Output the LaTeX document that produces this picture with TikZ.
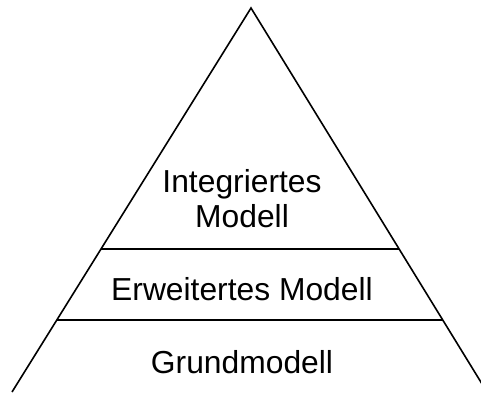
\documentclass[tikz,border=0pt]{standalone}
\usepackage{fontspec}
\setmainfont{Liberation Sans}
\usetikzlibrary{calc}
\tikzstyle{level} = [line width=1.6pt]
\tikzstyle{label} = [inner sep=0pt, align=center, font=\fontsize{31.8}{35}\selectfont]

\begin{document}
\begin{tikzpicture}[x=1pt, y=-1pt]
    \useasboundingbox (0,0) rectangle (481,392);
    \clip (0,0) rectangle (481,392);
    \coordinate (top) at (251,8);
    \coordinate (bl) at (12,392);
    \coordinate (br) at (487,392);
    \draw[level] (bl) -- (top) -- (br);
    \coordinate (l1) at ($(top)!0.6276!(bl)$);
    \coordinate (r1) at ($(top)!0.6276!(br)$);
    \coordinate (l2) at ($(top)!0.8125!(bl)$);
    \coordinate (r2) at ($(top)!0.8125!(br)$);
    \draw[level] (l1) -- (r1);
    \draw[level] (l2) -- (r2);
    \node[label, anchor=center] (int) at (242,199) {Integriertes\\Modell};
    \node[label, anchor=base] (erw) at (242,300) {Erweitertes Modell};
    \node[label, anchor=base] (grund) at (242,373) {Grundmodell};
\end{tikzpicture}
\end{document}
